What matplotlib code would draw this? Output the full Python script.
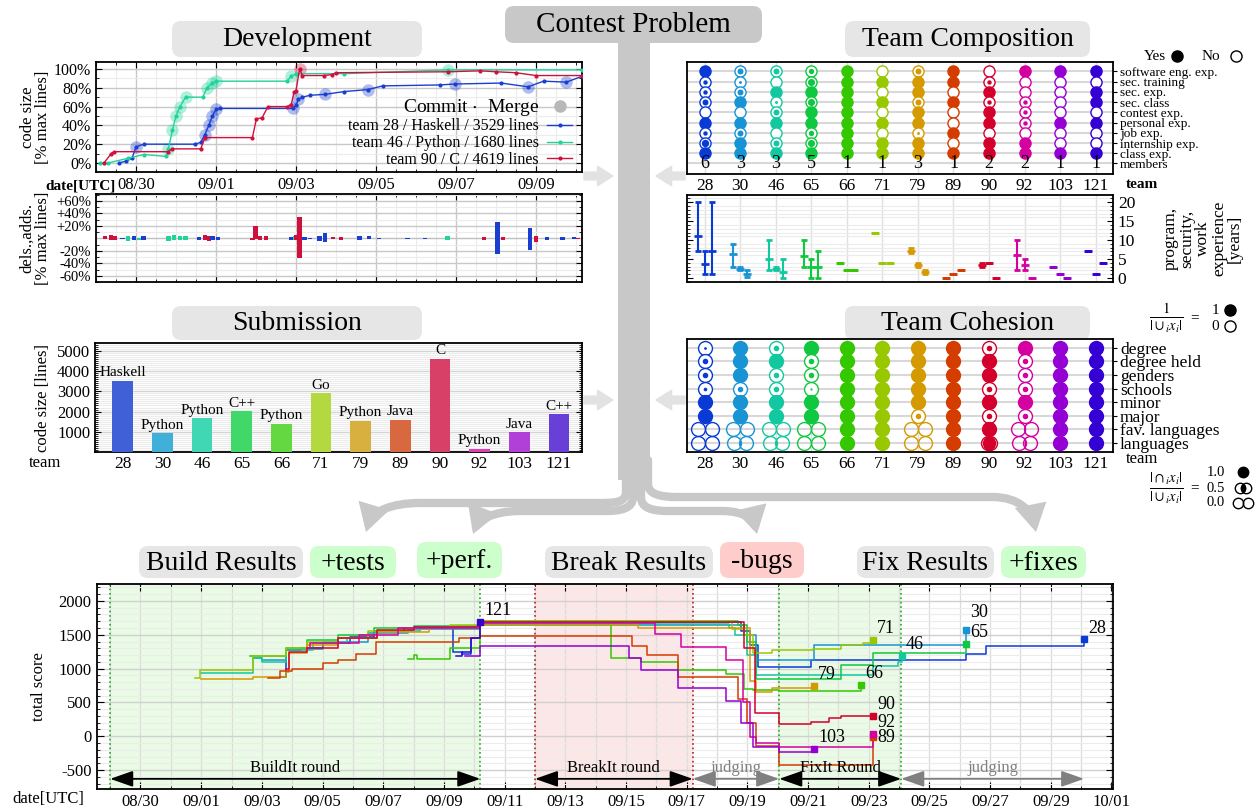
import numpy as np
import matplotlib
matplotlib.use("Agg")
import matplotlib.pyplot as plt
from matplotlib.lines import Line2D
from matplotlib.path import Path
from matplotlib.patches import FancyBboxPatch, FancyArrowPatch, Rectangle
from matplotlib.ticker import MultipleLocator

plt.rcParams['font.family'] = ['Liberation Serif', 'DejaVu Serif']
plt.rcParams['mathtext.fontset'] = 'stix'
plt.rcParams['xtick.direction'] = 'in'
plt.rcParams['ytick.direction'] = 'in'
plt.rcParams['axes.linewidth'] = 1.3

W, H = 1257, 808

# ---------------- data ----------------
teams = ['28', '30', '46', '65', '66', '71', '79', '89', '90', '92', '103', '121']
team_colors = ['#0a3ad6', '#1894d4', '#12c8a0', '#10c840', '#34c800', '#98c800',
               '#d49a00', '#d43c00', '#d4002c', '#d400a0', '#9400d4', '#3400d4']
bar_colors = ['#4060d8', '#40b0d8', '#40d8b4', '#40d868', '#64d840', '#b4d840',
              '#d8b040', '#d86840', '#d84068', '#d840b4', '#b040d8', '#6840d8']

# development (days since 08/29 00:00 UTC, % of max lines)
dev28_day = [0.57, 0.76, 0.90, 1.0, 1.19, 2.48, 2.62, 2.72, 2.82, 2.91, 3.0, 3.1, 4.92, 5.01,
             5.06, 5.16, 5.35, 5.73, 6.21, 6.79, 7.17, 8.6, 8.98, 10.13, 10.8, 11.19, 11.76, 12.14]
dev28_pct = [0, 2, 5, 17, 20, 20, 22, 30, 40, 50, 57, 58, 58, 62, 68, 70, 72, 73, 76, 78, 82,
             83, 84, 85, 81, 87, 86, 92]
dev28_merge = [3, 7, 8, 9, 10, 12, 14, 17, 19, 22, 24, 26]
dev46_day = [0.1, 0.3, 0.8, 1.2, 1.76, 1.81, 1.91, 2.0, 2.1, 2.24, 2.67, 2.77, 2.91, 3.0, 4.78,
             4.87, 5.01, 6.21, 8.79, 12.14]
dev46_pct = [0, 0, 5, 9, 7, 15, 35, 50, 60, 70, 70, 80, 85, 87, 87, 92, 95, 95, 99, 99]
dev46_merge = [5, 6, 7, 8, 9, 11, 12, 13, 15, 18]
dev90_day = [0.2, 0.38, 0.45, 1.81, 1.9, 2.62, 2.72, 3.91, 4.01, 4.15, 4.3, 4.78, 4.88, 4.95,
             5.0, 5.09, 5.16, 5.7, 5.9, 6.0, 8.79, 9.6, 10.0, 10.5, 11.0, 12.14]
dev90_pct = [0, 10, 12, 12, 15, 15, 27, 27, 47, 48, 60, 60, 62, 75, 77, 100, 93, 93, 94, 96,
             97, 98, 97, 96, 93, 93]
dev90_merge = [15]
dev_labels = ['team 28 / Haskell / 3529 lines', 'team 46 / Python / 1680 lines',
              'team 90 / C / 4619 lines']
dev_colors = ['#1a3fd0', '#1fd39b', '#d0103c']
dev_tick_days = [1, 3, 5, 7, 9, 11]
dev_tick_labels = ['08/30', '09/01', '09/03', '09/05', '09/07', '09/09']

# line changes: day, additions %, deletions %, team index into dev series
chg_day = [0.23, 0.38, 0.47, 0.66, 0.8, 0.95, 1.09, 1.19, 1.81, 1.95, 2.1, 2.24, 2.58, 2.72,
           2.82, 2.91, 3.05, 3.91, 3.99, 4.1, 4.25, 4.87, 4.97, 5.01, 5.09, 5.21, 5.35, 5.59,
           5.73, 5.93, 6.12, 6.59, 6.83, 7.07, 7.79, 8.22, 8.79, 9.7, 10.04, 10.18, 10.85,
           11.0, 11.28, 11.66, 11.95, 12.05]
chg_add = [3, 5, 3, 1, 3, 3, 1, 4, 3, 5, 4, 3, 2, 6, 3, 3, 2, 1, 20, 4, 3, 2, 3, 5, 34, 2, 1,
           3, 8, 2, 2, 3, 3, 1, 1, 1, 3, 2, 26, 2, 17, 4, 2, 2, 2, 1]
chg_del = [1, 3, 3, 1, 4, 3, 2, 3, 4, 3, 3, 3, 2, 3, 4, 3, 2, 3, 1, 3, 2, 2, 2, 3, 32, 2, 1,
           4, 6, 1, 2, 3, 1, 1, 1, 1, 3, 2, 25, 2, 18, 6, 2, 2, 1, 1]
chg_team = [2, 2, 2, 0, 1, 0, 1, 0, 1, 1, 1, 1, 0, 2, 2, 0, 0, 2, 2, 2, 2, 0, 1, 2, 2, 0, 0,
            0, 0, 2, 2, 0, 0, 0, 0, 0, 1, 2, 0, 2, 0, 2, 0, 0, 0, 2]

# team composition (rows top -> bottom), fraction of members
comp_rows = ['software eng. exp.', 'sec. training', 'sec. exp.', 'sec. class', 'contest exp.',
             'personal exp.', 'job exp.', 'internship exp.', 'class exp.']
comp_vals = [
    [1, .5, .5, .67, 0, 1, .5, .83, 1],
    [.67, .33, .67, 1, 0, 1, .67, 1, 1],
    [.67, 0, 1, .33, .67, 1, 0, .67, 1],
    [.6, .8, 1, .8, 1, 1, .6, .8, 1],
    [1, 1, 1, 1, 1, 1, 1, 1, 1],
    [0, 1, 0, 1, 0, 1, 0, 1, 1],
    [.67, 1, 1, .67, 1, 1, .33, 1, 1],
    [1, 1, 0, 1, 0, 0, 1, 0, 1],
    [0, .5, 1, .5, 1, 1, 0, 1, 1],
    [1, 0, 0, .5, .5, .5, 0, 1, 1],
    [1, 0, 0, 0, 0, 1, 0, 0, 1],
    [1, 0, 1, 1, 0, 1, 0, 0, 1],
]
members = [6, 3, 3, 5, 1, 1, 3, 1, 2, 2, 1, 1]

# experience in years (min, mean, max)
prog_lo = [7, 3, 2, 3, 4, 12, 6.5, 0, 3, 2, 3, 7]
prog_mid = [11, 6.3, 5, 5.7, 4, 12, 7.2, 0, 3.5, 6, 3, 7]
prog_hi = [20, 9, 10, 10, 4, 12, 7.8, 0, 4, 10, 3, 7]
sec_lo = [1, 2.2, 2, 0, 2, 4, 3, 1, 4, 2, 1, 1]
sec_mid = [3.7, 2.5, 2.5, 2.8, 2, 4, 3.5, 1, 4, 3.5, 1, 1]
sec_hi = [7, 2.8, 3, 5, 2, 4, 4, 1, 4, 5, 1, 1]
work_lo = [1, 0.2, 0, 0, 2, 4, 1, 2, 0, 0, 0, 4]
work_mid = [7.2, 1, 1.7, 2.8, 2, 4, 1.5, 2, 0, 0, 0, 4]
work_hi = [20, 2, 5, 7, 2, 4, 2, 2, 0, 0, 0, 4]

# submission
sub_lines = [3529, 950, 1680, 2030, 1400, 2920, 1550, 1600, 4619, 170, 1000, 1880]
sub_lang = ['Haskell', 'Python', 'Python', 'C++', 'Python', 'Go', 'Python', 'Java', 'C',
            'Python', 'Java', 'C++']

# team cohesion (rows top -> bottom); last two rows are overlap ratios
coh_rows = ['degree', 'degree held', 'genders', 'schools', 'minor', 'major',
            'fav. languages', 'languages']
coh_vals = [
    [.25, .5, .5, .33, 1, 1, 0, 0],
    [1, 1, 1, .5, 1, 1, 0, .12],
    [.5, 1, .5, .5, 1, 1, 0, .12],
    [1, .5, .5, .2, 1, 1, 0, 0],
    [1, 1, 1, 1, 1, 1, 1, 1],
    [1, 1, 1, 1, 1, 1, 1, 1],
    [1, 1, 1, 1, 1, .5, 0, 0],
    [1, 1, 1, 1, 1, 1, 1, 1],
    [.5, 1, 1, .5, 1, .5, 1, .85],
    [1, .5, .5, .5, 1, .5, .1, .15],
    [1, 1, 1, 1, 1, 1, 1, 1],
    [1, 1, 1, 1, 1, 1, 1, 1],
]

# total score over time (steps)
score_day = {
    '28': [5.6, 5.8, 6.3, 7.0, 7.9, 8.7, 9.7, 11.3, 11.6, 11.9, 12.2, 20.4, 20.8, 21.1, 21.35,
           23.1, 28.2, 28.85, 32.1],
    '30': [4.7, 5.0, 5.8, 7.0, 8.5, 9.8, 12.2, 20.4, 20.9, 21.3, 23.2, 28.2],
    '46': [3.0, 4.7, 5.0, 5.8, 6.7, 7.8, 8.8, 10.2, 12.2, 20.4, 20.6, 21.0, 21.3, 25.14, 25.95,
           26.08],
    '65': [4.6, 5.8, 6.5, 7.5, 8.7, 10.0, 12.2, 20.4, 20.7, 21.0, 21.3, 24.07, 25.14, 28.2],
    '66': [9.8, 10.0, 10.1, 11.2, 12.2, 16.5, 17.5, 18.7, 20.3, 20.9, 21.2, 22.05, 24.74],
    '71': [2.8, 2.95, 4.7, 5.8, 6.5, 7.5, 8.5, 9.8, 11.2, 12.2, 20.4, 20.5, 20.9, 21.2, 21.8,
           23.15, 24.07, 24.8, 25.14],
    '79': [3.0, 4.7, 5.8, 5.9, 6.5, 7.5, 8.8, 10.5, 12.2, 17.4, 20.4, 21.1, 21.3, 21.8, 23.2],
    '89': [5.2, 5.6, 6.0, 7.0, 7.5, 8.1, 8.75, 11.5, 12.2, 16.8, 17.2, 17.7, 18.7, 20.3, 20.7,
           21.0, 21.3, 22.05, 25.14],
    '90': [5.8, 5.9, 6.5, 7.5, 8.8, 10.0, 12.2, 20.4, 20.9, 21.25, 22.05, 23.1, 23.7, 24.1,
           25.14],
    '92': [6.5, 6.6, 8.0, 8.2, 9.5, 12.2, 17.96, 18.8, 20.3, 20.85, 21.1, 21.3, 22.05, 25.14],
    '103': [11.7, 12.2, 16.97, 17.1, 17.5, 18.7, 20.3, 20.8, 21.2, 22.05, 23.2],
    '121': [11.4, 11.6, 11.9, 12.2],
}
score_val = {
    '28': [880, 1270, 1300, 1380, 1470, 1560, 1600, 1240, 1210, 1450, 1690, 1690, 1560, 1350,
           1030, 1120, 1210, 1340, 1430],
    '30': [1150, 1120, 1290, 1400, 1520, 1590, 1650, 1650, 1500, 1120, 1350, 1575],
    '46': [930, 1150, 1100, 1280, 1380, 1450, 1560, 1600, 1660, 1600, 1500, 1200, 900, 1040,
           1090, 1185],
    '65': [1190, 1300, 1420, 1500, 1600, 1630, 1700, 1700, 1640, 1400, 850, 1060, 1230, 1365],
    '66': [1140, 1200, 1140, 1300, 1700, 1150, 1090, 980, 920, 700, 680, 670, 755],
    '71': [860, 980, 1180, 1300, 1400, 1450, 1550, 1600, 1650, 1700, 1700, 1580, 1500, 1230,
           1280, 1290, 1355, 1380, 1419],
    '79': [850, 870, 950, 1230, 1350, 1450, 1540, 1600, 1650, 1600, 1600, 820, 650, 706, 745],
    '89': [860, 960, 1000, 1080, 1120, 1210, 1400, 1450, 1480, 1480, 1330, 1200, 870, 870, 550,
           200, -150, -427, -12],
    '90': [1000, 1250, 1300, 1450, 1570, 1620, 1690, 1690, 1300, 340, 174, 208, 271, 300, 306],
    '92': [1300, 1380, 1380, 1500, 1600, 1680, 1512, 1316, 1120, 500, -12, -100, -160, 37],
    '103': [1180, 1330, 1330, 1150, 980, 706, 525, 200, -160, -233, -183],
    '121': [1190, 1240, 1450, 1690],
}
score_tick_days = list(range(1, 34, 2))
score_tick_labels = ['08/30', '09/01', '09/03', '09/05', '09/07', '09/09', '09/11', '09/13',
                     '09/15', '09/17', '09/19', '09/21', '09/23', '09/25', '09/27', '09/29',
                     '10/01']
phase_bounds = [0, 12.2, 14.0, 19.2, 22.05, 26.07, 32.1]

# ---------------- figure ----------------
fig = plt.figure(figsize=(W / 100, H / 100), dpi=100)


def px_axes(x0, y0, x1, y1, **kw):
    return fig.add_axes([x0 / W, 1 - y1 / H, (x1 - x0) / W, (y1 - y0) / H], **kw)


deco = px_axes(0, 0, W, H, zorder=-1)
deco.set_xlim(0, W)
deco.set_ylim(H, 0)
deco.axis('off')

GREY = '#c8c8c8'


def title_box(x0, y0, x1, y1, text, fc, fs=20):
    deco.add_patch(FancyBboxPatch((x0, y0), x1 - x0, y1 - y0,
                                  boxstyle='round,pad=0,rounding_size=9', fc=fc, ec='none',
                                  zorder=3))
    deco.text((x0 + x1) / 2, (y0 + y1) / 2 + 1, text, ha='center', va='center', fontsize=fs,
              zorder=4)


# central trunk and branches
deco.add_patch(Rectangle((618, 40), 32, 440, fc=GREY, ec='none', zorder=1))
branches = [
    [(626, 460), (626, 492), (626, 503), (614, 503), (598, 503), (420, 503), (390, 503),
     (372, 512), (366, 532)],
    [(633, 460), (633, 497), (633, 508), (622, 511), (606, 511), (520, 511), (492, 511),
     (478, 521), (473, 534)],
    [(641, 460), (641, 497), (641, 508), (652, 511), (668, 511), (722, 511), (746, 511),
     (754, 521), (757, 534)],
    [(648, 460), (648, 484), (648, 494), (660, 497), (676, 497), (992, 497), (1020, 497),
     (1032, 512), (1036, 532)],
]
codes = [Path.MOVETO, Path.LINETO, Path.CURVE4, Path.CURVE4, Path.CURVE4, Path.LINETO,
         Path.CURVE4, Path.CURVE4, Path.CURVE4]
for pts in branches:
    deco.add_patch(FancyArrowPatch(path=Path(pts, codes),
                                   arrowstyle='-|>,head_length=0.55,head_width=0.32',
                                   mutation_scale=20, lw=6, color=GREY, joinstyle='miter',
                                   zorder=1))

for y in (176, 400):
    deco.annotate('', xy=(613, y), xytext=(584, y),
                  arrowprops=dict(arrowstyle='simple,head_length=0.8,head_width=1.0,tail_width=0.4',
                                  color='#e2e2e2', mutation_scale=14, shrinkA=0, shrinkB=0))
    deco.annotate('', xy=(656, y), xytext=(685, y),
                  arrowprops=dict(arrowstyle='simple,head_length=0.8,head_width=1.0,tail_width=0.4',
                                  color='#e2e2e2', mutation_scale=14, shrinkA=0, shrinkB=0))

title_box(505, 6, 762, 43, 'Contest Problem', GREY, 21)
title_box(172, 21, 422, 57, 'Development', '#e6e6e6')
title_box(845, 21, 1090, 57, 'Team Composition', '#e6e6e6')
title_box(172, 306, 422, 340, 'Submission', '#e6e6e6')
title_box(845, 306, 1090, 340, 'Team Cohesion', '#e6e6e6')
title_box(139, 546, 303, 578, 'Build Results', '#e6e6e6')
title_box(310, 546, 396, 578, '+tests', '#ccffcc')
title_box(417, 542, 502, 578, '+perf.', '#ccffcc')
title_box(545, 546, 713, 578, 'Break Results', '#e6e6e6')
title_box(720, 542, 804, 578, '-bugs', '#ffcccc')
title_box(857, 546, 994, 578, 'Fix Results', '#e6e6e6')
title_box(1001, 546, 1086, 578, '+fixes', '#ccffcc')

# ---------------- development ----------------
ax = px_axes(96, 62, 582, 172)
dev_series = [(dev28_day, dev28_pct, dev28_merge), (dev46_day, dev46_pct, dev46_merge),
              (dev90_day, dev90_pct, dev90_merge)]
handles = [Line2D([], [], marker='o', ms=8, color='#b8b8b8', ls='none')]
for (d, p, m), col in zip(dev_series, dev_colors):
    d = np.array(d)
    p = np.array(p)
    ax.plot(d[m], p[m], 'o', ms=9, color=col, alpha=0.35, mec='none', zorder=2)
    ax.plot(d, p, '-', marker='.', ms=4, lw=1, color=col, zorder=3)
    handles.append(Line2D([], [], marker='.', ms=4, lw=1, color=col))
leg = ax.legend(handles, ['Commit $\\cdot$  Merge'] + dev_labels, loc='lower right',
                markerfirst=False, frameon=False, fontsize=11.5, handlelength=1.6,
                labelspacing=0.05, borderaxespad=0.2, handletextpad=0.5,
                bbox_to_anchor=(1.0, -0.05))
leg.get_texts()[0].set_fontsize(14)
ax.set_xlim(0, 12.15)
ax.set_ylim(-9.6, 107.4)
ax.set_yticks([0, 20, 40, 60, 80, 100])
ax.set_yticklabels(['0%', '20%', '40%', '60%', '80%', '100%'], fontsize=11.5)
ax.set_xticks(dev_tick_days)
ax.set_xticklabels(dev_tick_labels, fontsize=12)
ax.xaxis.set_minor_locator(MultipleLocator(0.5))
ax.yaxis.set_minor_locator(MultipleLocator(10))
ax.tick_params(which='both', top=True, right=True, length=4)
ax.tick_params(which='minor', length=2)
ax.grid(which='major', color='#c8c8c8', lw=1)
ax.grid(which='minor', color='#ececec', lw=0.8)
ax.set_axisbelow(True)
ax.set_ylabel('code size\n[% max lines]', fontsize=12, linespacing=0.95, labelpad=2)
deco.text(80, 186, 'date[UTC]', fontsize=11, fontweight='bold', ha='center', va='center')

ax2 = px_axes(96, 194, 582, 282)
for d, a, dl, t in zip(chg_day, chg_add, chg_del, chg_team):
    ax2.bar(d, a + dl, bottom=-dl, width=0.11, color=dev_colors[t], zorder=3)
ax2.set_xlim(0, 12.15)
ax2.set_ylim(-70, 71)
ax2.set_yticks([-60, -40, -20, 20, 40, 60])
ax2.set_yticklabels(['-60%', '-40%', '-20%', '+20%', '+40%', '+60%'], fontsize=10.5)
ax2.set_xticks(dev_tick_days)
ax2.set_xticklabels([])
ax2.xaxis.set_minor_locator(MultipleLocator(0.5))
ax2.yaxis.set_minor_locator(MultipleLocator(10))
ax2.tick_params(which='both', top=True, right=True, length=4)
ax2.tick_params(which='minor', length=2)
ax2.grid(which='major', color='#c8c8c8', lw=1)
ax2.grid(which='minor', color='#ececec', lw=0.8)
ax2.axhline(0, color='#c0c0c0', lw=1, zorder=1)
ax2.set_axisbelow(True)
ax2.set_ylabel('dels.,adds.\n[% max lines]', fontsize=12, linespacing=0.95, labelpad=4)


# ---------------- helpers for circle cells ----------------
def frac_marker(ax, x, y, frac, color, ms):
    if frac >= 1:
        ax.plot(x, y, 'o', ms=ms, mfc=color, mec=color, mew=1, zorder=3)
        return
    ax.plot(x, y, 'o', ms=ms, mfc='white', mec=color, mew=1, zorder=3)
    if frac > 0:
        ax.plot(x, y, 'o', ms=ms * frac * 0.8, mfc=color, mec='none', zorder=4)


def lens_path(d):
    a = np.arccos(d)
    t1 = np.linspace(-a, a, 30)
    right = np.column_stack([-d + np.cos(t1), np.sin(t1)])
    t2 = np.linspace(np.pi - a, np.pi + a, 30)
    left = np.column_stack([d + np.cos(t2), np.sin(t2)])
    return Path(np.vstack([right, left, right[:1]]), closed=True)


def overlap_marker(ax, x, y, v, color, ms, r):
    if v >= 1:
        ax.plot(x, y, 'o', ms=ms, mfc=color, mec=color, mew=1, zorder=3)
        return
    d = 1 - v
    ax.plot([x - d * r, x + d * r], [y, y], 'o', ms=ms, mfc='none', mec=color, mew=1,
            ls='none', zorder=3)
    if v > 0:
        ax.plot(x, y, marker=lens_path(d), ms=ms * np.sqrt(1 - d * d), color=color,
                mec='none', ls='none', zorder=4)


def style_team_axes(ax, ylim):
    ax.set_xlim(-0.5, 11.49)
    ax.set_ylim(*ylim)
    ax.set_xticks(range(len(teams)))
    ax.grid(axis='x', color='#e0e0e0', lw=1)
    ax.set_axisbelow(True)


# ---------------- team composition ----------------
ax3 = px_axes(687, 62, 1113, 174)
nrow = len(comp_rows)
for r in range(nrow + 1):
    ax3.axhline(r, color='#d8d8d8', lw=1.5, zorder=1)
for i, col in enumerate(team_colors):
    for r, v in enumerate(comp_vals[i]):
        frac_marker(ax3, i, nrow - r, v, col, 8)
    ax3.text(i, 0, str(members[i]), ha='center', va='center', fontsize=13)
style_team_axes(ax3, (-1.03, 9.92))
ax3.set_xticklabels(teams, fontsize=12.5)
ax3.tick_params(axis='x', length=0, pad=3)
ax3.yaxis.tick_right()
ax3.set_yticks(range(nrow + 1))
ax3.set_yticklabels(['members'] + comp_rows[::-1], fontsize=9.5)
ax3.tick_params(axis='y', direction='out', length=3, pad=2)
ax3.set_ylim(-1.03, 9.92)
ax3.text(1.03, -0.04, 'team', transform=ax3.transAxes, fontsize=11, fontweight='bold',
         va='top', ha='left')

deco.text(1166, 56, 'Yes', ha='right', va='center', fontsize=11)
deco.plot(1177, 56, 'o', ms=8, color='black')
deco.text(1220, 56, 'No', ha='right', va='center', fontsize=11)
deco.plot(1236, 56, 'o', ms=8, mfc='white', mec='black', mew=1)

# ---------------- experience ----------------
ax4 = px_axes(687, 195, 1113, 282)
for k, (lo, mid, hi) in enumerate([(prog_lo, prog_mid, prog_hi), (sec_lo, sec_mid, sec_hi),
                                   (work_lo, work_mid, work_hi)]):
    for i, col in enumerate(team_colors):
        x = i + (k - 1) * 0.2
        ax4.errorbar(x, mid[i], yerr=[[mid[i] - lo[i]], [hi[i] - mid[i]]], fmt='_', ms=6,
                     mew=2, color=col, ecolor=col, elinewidth=1.5, capsize=2.5, capthick=1.5)
style_team_axes(ax4, (-1.06, 21.9))
ax4.set_xticklabels([])
ax4.tick_params(axis='x', length=0)
ax4.yaxis.tick_right()
ax4.set_yticks([0, 5, 10, 15, 20])
ax4.set_yticklabels(['0', '5', '10', '15', '20'], fontsize=12.5)
ax4.yaxis.set_minor_locator(MultipleLocator(1))
ax4.tick_params(axis='y', which='both', left=True, right=True, length=4)
ax4.tick_params(axis='y', which='minor', length=2)
ax4.grid(axis='y', which='minor', color='#ececec', lw=0.8)
ax4.yaxis.set_label_position('right')
ax4.set_ylabel('program,\nsecurity,\nwork\nexperience\n[years]', fontsize=12.5,
               linespacing=1.0, rotation=90, labelpad=20)

# ---------------- submission ----------------
ax5 = px_axes(95, 343, 582, 452)
xs = np.arange(len(teams))
ax5.bar(xs, sub_lines, width=0.52, color=bar_colors, zorder=3)
for x, v, lang in zip(xs, sub_lines, sub_lang):
    ax5.text(x, v + 60, lang, ha='center', va='bottom', fontsize=11)
ax5.set_xlim(-0.7, 11.58)
ax5.set_ylim(0, 5390)
ax5.set_xticks(xs)
ax5.set_xticklabels(teams, fontsize=12.5)
ax5.tick_params(axis='x', length=0, pad=3)
ax5.set_yticks([1000, 2000, 3000, 4000, 5000])
ax5.set_yticklabels(['1000', '2000', '3000', '4000', '5000'], fontsize=12)
ax5.yaxis.set_minor_locator(MultipleLocator(100))
ax5.tick_params(axis='y', which='both', left=True, right=True, length=4)
ax5.tick_params(axis='y', which='minor', length=2)
ax5.grid(axis='y', which='minor', color='#ececec', lw=0.8)
ax5.grid(axis='y', which='major', color='#d4d4d4', lw=1)
ax5.set_axisbelow(True)
ax5.set_ylabel('code size [lines]', fontsize=12, labelpad=4)
ax5.text(-0.07, -0.1, 'team', transform=ax5.transAxes, fontsize=12, ha='right', va='center')

# ---------------- team cohesion ----------------
ax6 = px_axes(687, 339, 1113, 452)
ncoh = len(coh_rows)
for r in range(ncoh):
    ax6.axhline(r, color='#d8d8d8', lw=1.5, zorder=1)
for i, col in enumerate(team_colors):
    for r, v in enumerate(coh_vals[i]):
        y = ncoh - 1 - r
        if r < 6:
            frac_marker(ax6, i, y, v, col, 10)
        else:
            overlap_marker(ax6, i, y, v, col, 10, 0.196)
style_team_axes(ax6, (-0.66, 7.64))
ax6.set_xticklabels(teams, fontsize=12.5)
ax6.tick_params(axis='x', length=0, pad=3)
ax6.yaxis.tick_right()
ax6.set_yticks(range(ncoh))
ax6.set_yticklabels(coh_rows[::-1], fontsize=12.5)
ax6.tick_params(axis='y', direction='out', length=3, pad=2)
ax6.set_ylim(-0.66, 7.64)
deco.text(1126, 459, 'team', fontsize=12, va='center', ha='left')

deco.text(1166, 318, r'$\frac{1}{|\cup_i x_i|}$', fontsize=15, ha='center', va='center')
deco.text(1195, 318, '=', fontsize=11, ha='center', va='center')
deco.text(1215, 310, '1', fontsize=11, ha='center', va='center')
deco.text(1215, 326, '0', fontsize=11, ha='center', va='center')
deco.plot(1230, 310, 'o', ms=8, color='black')
deco.plot(1230, 326, 'o', ms=8, mfc='white', mec='black', mew=1)

deco.text(1166, 488, r'$\frac{|\cap_i x_i|}{|\cup_i x_i|}$', fontsize=15, ha='center',
          va='center')
deco.text(1195, 488, '=', fontsize=11, ha='center', va='center')
for yy, lab, v in [(472, '1.0', 1.0), (488, '0.5', 0.5), (503, '0.0', 0.0)]:
    deco.text(1216, yy, lab, fontsize=10.5, ha='center', va='center')
    overlap_marker(deco, 1243, yy, v, 'black', 7.5, 5.2)

# ---------------- total score ----------------
ax7 = px_axes(96.5, 584, 1113, 789)
span_colors = ['#e9fbe4', '#fde6e6', '#e9fbe4']
span_edge = ['#22aa22', '#aa2222', '#22aa22']
for (a, b), fc, ec in zip([(phase_bounds[0], phase_bounds[1]), (phase_bounds[2], phase_bounds[3]),
                           (phase_bounds[4], phase_bounds[5])], span_colors, span_edge):
    ax7.axvspan(a, b, color=fc, zorder=0.2, lw=0)
    ax7.axvline(a, color=ec, ls=':', lw=1.2, zorder=2)
    ax7.axvline(b, color=ec, ls=':', lw=1.2, zorder=2)

label_dy = {'30': 6, '89': 0}
for i, t in enumerate(teams):
    d = score_day[t]
    v = score_val[t]
    col = team_colors[i]
    ax7.plot(d, v, drawstyle='steps-post', color=col, lw=1.1, zorder=3)
    ax7.plot(d[-1], v[-1], 's', ms=4.5, color=col, zorder=4)
    ax7.annotate(t, (d[-1], v[-1]), xytext=(3, label_dy.get(t, 2)),
                 textcoords='offset points', fontsize=13, ha='left',
                 va='center' if t == '89' else 'bottom', zorder=5)

round_y = -630
round_spans = [(phase_bounds[0], phase_bounds[1], 'BuildIt round', 'black'),
               (phase_bounds[2], phase_bounds[3], 'BreakIt round', 'black'),
               (phase_bounds[3], phase_bounds[4], 'judging', '#808080'),
               (phase_bounds[4], phase_bounds[5], 'FixIt Round', 'black'),
               (phase_bounds[5], phase_bounds[6], 'judging', '#808080')]
for a, b, lab, col in round_spans:
    ax7.annotate('', xy=(b, round_y), xytext=(a, round_y),
                 arrowprops=dict(arrowstyle='<|-|>,head_length=1.0,head_width=0.35', color=col,
                                 lw=1.3, mutation_scale=14, shrinkA=0, shrinkB=0), zorder=5)
    ax7.text((a + b) / 2, round_y + 40, lab, ha='center', va='bottom', fontsize=12, color=col,
             zorder=5)

ax7.set_xlim(-0.45, 33.05)
ax7.set_ylim(-780, 2250)
ax7.set_xticks(score_tick_days)
ax7.set_xticklabels(score_tick_labels, fontsize=12)
ax7.xaxis.set_minor_locator(MultipleLocator(1))
ax7.set_yticks([-500, 0, 500, 1000, 1500, 2000])
ax7.set_yticklabels(['-500', '0', '500', '1000', '1500', '2000'], fontsize=12)
ax7.yaxis.set_minor_locator(MultipleLocator(100))
ax7.tick_params(which='both', top=True, right=True, length=5)
ax7.tick_params(which='minor', length=2.5)
ax7.grid(axis='x', which='both', color='#dcdcdc', lw=0.9)
ax7.grid(axis='y', which='minor', color='#ececec', lw=0.8)
ax7.grid(axis='y', which='major', color='#d0d0d0', lw=1)
ax7.set_axisbelow(True)
ax7.set_ylabel('total score', fontsize=12, labelpad=8)
deco.text(48, 799, 'date[UTC]', fontsize=12, ha='center', va='center')

fig.savefig('out.png', dpi=100)
